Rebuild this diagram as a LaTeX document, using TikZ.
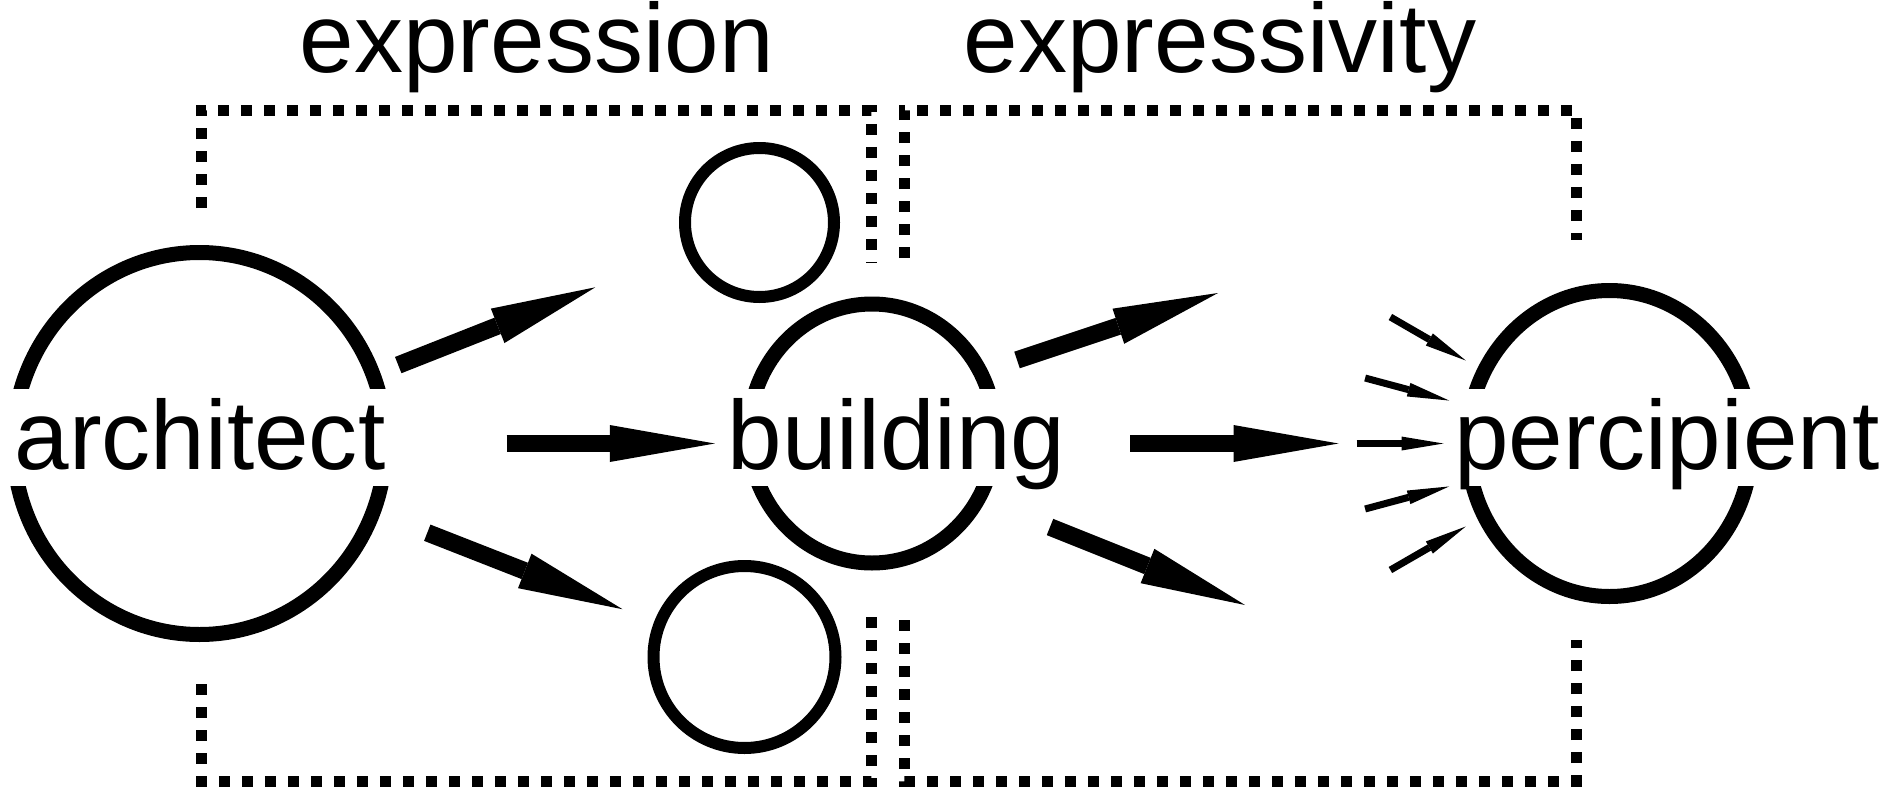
\documentclass[tikz,border=0pt]{standalone}
\usepackage{fontspec}
\setmainfont{Liberation Sans}
\usetikzlibrary{arrows.meta, positioning, shapes.geometric}

\begin{document}
\begin{tikzpicture}[
    every node/.style={font=\fontsize{27.9pt}{30pt}\selectfont},
    ring/.style={ellipse, draw, line width=0.15cm, inner sep=0pt, outer sep=0pt},
    smallring/.style={circle, draw, line width=0.12cm, inner sep=0pt, outer sep=0pt},
    word/.style={fill=white, inner xsep=0.08cm, inner ysep=0pt,
                 text height=0.80cm, text depth=0.17cm, anchor=base},
    bigarrow/.style={-{Triangle[length=1.05cm, width=0.37cm, line width=0pt]}, line width=0.175cm},
    smallarrow/.style={-{Triangle[length=0.42cm, width=0.14cm, line width=0pt]}, line width=0.07cm},
    frame/.style={line width=0.11cm, dash pattern=on 0.11cm off 0.12cm}
]
\useasboundingbox (0,0) rectangle (18.84,7.87);

% circles
\node[ring, minimum width=3.72cm, minimum height=3.82cm] (architect) at (1.995,3.435) {};
\node[ring, minimum width=2.46cm, minimum height=2.59cm] (building) at (8.72,3.535) {};
\node[ring, minimum width=2.84cm, minimum height=3.06cm] (percipient) at (16.095,3.435) {};
\node[smallring, minimum size=1.49cm] (idea-top) at (7.595,5.645) {};
\node[smallring, minimum size=1.82cm] (idea-bottom) at (7.445,1.30) {};

% words
\node[word, inner xsep=0.16cm] (architect-word) at (2.00,3.18) {architect};
\node[word] (building-word) at (8.965,3.18) {building};
\node[word] (percipient-word) at (16.67,3.18) {percipient};
\node[anchor=base] (expression) at (5.37,7.15) {expression};
\node[anchor=base] (expressivity) at (12.20,7.15) {expressivity};

% dotted frames
\draw[frame] (2.01,5.79) -- (2.01,6.77) -- (8.71,6.77) -- (8.71,5.25);
\draw[frame] (2.01,1.03) -- (2.01,0.06) -- (8.71,0.06) -- (8.71,1.70);
\draw[frame] (9.04,5.29) -- (9.04,6.77) -- (15.76,6.77) -- (15.76,5.47);
\draw[frame] (9.04,1.67) -- (9.04,0.06) -- (15.76,0.06) -- (15.76,1.47);

% architect -> building
\draw[bigarrow, shorten <=0.27cm, shorten >=1.02cm] (architect) -- (idea-top);
\draw[bigarrow, shorten <=1.21cm, shorten >=0.04cm] (architect.east) -- (architect.east -| building-word.west);
\draw[bigarrow, shorten <=0.58cm, shorten >=0.40cm] (architect) -- (idea-bottom);

% building -> percipient
\coordinate (out-up-start) at (10.17,4.27);
\coordinate (out-up-end) at (12.18,4.94);
\coordinate (out-down-start) at (10.50,2.60);
\coordinate (out-down-end) at (12.45,1.82);
\draw[bigarrow] (out-up-start) -- (out-up-end);
\draw[bigarrow, shorten <=0.56cm, shorten >=1.29cm] (percipient.west -| building-word.east) -- (percipient.west);
\draw[bigarrow] (out-down-start) -- (out-down-end);

% rays into the percipient
\foreach \a in {150,165,...,210} {
  \coordinate (ray-\a) at ([shift={(\a:2.53)}]percipient.center);
  \draw[smallarrow, shorten >=1.66cm] (ray-\a) -- (percipient.center);
}

\end{tikzpicture}
\end{document}
